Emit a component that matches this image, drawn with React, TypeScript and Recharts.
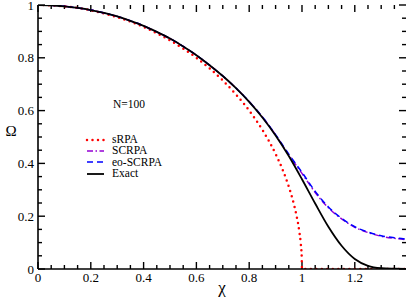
import { LineChart, Line, XAxis, YAxis, Legend, ReferenceLine } from 'recharts'

// chi grid for the Exact / SCRPA / eo-SCRPA curves
const chi = [
  0, 0.05, 0.1, 0.15, 0.2, 0.25, 0.3, 0.35, 0.4, 0.45, 0.5, 0.55, 0.6, 0.65, 0.7,
  0.75, 0.8, 0.85, 0.9, 0.95, 1.0, 1.05, 1.1, 1.15, 1.2, 1.25, 1.3, 1.35, 1.4,
]
const exact = [
  1, 0.999, 0.995, 0.989, 0.981, 0.97, 0.957, 0.94, 0.921, 0.898, 0.873, 0.843, 0.81, 0.772, 0.731,
  0.685, 0.633, 0.574, 0.506, 0.428, 0.34, 0.248, 0.16, 0.088, 0.038, 0.012, 0.003, 0.001, 0,
]
const scrpa = [
  1, 0.999, 0.995, 0.989, 0.981, 0.97, 0.957, 0.94, 0.921, 0.898, 0.873, 0.843, 0.81, 0.772, 0.731,
  0.685, 0.634, 0.576, 0.508, 0.432, 0.362, 0.29, 0.232, 0.19, 0.158, 0.138, 0.124, 0.116, 0.111,
]
const eoScrpa = [
  1, 0.999, 0.995, 0.989, 0.981, 0.97, 0.957, 0.94, 0.921, 0.898, 0.873, 0.843, 0.81, 0.772, 0.731,
  0.685, 0.634, 0.576, 0.509, 0.435, 0.366, 0.294, 0.235, 0.192, 0.16, 0.14, 0.126, 0.118, 0.113,
]

// sRPA has its own, denser grid near chi = 1
const chiRpa = [
  0, 0.05, 0.1, 0.15, 0.2, 0.25, 0.3, 0.35, 0.4, 0.45, 0.5, 0.55, 0.6, 0.65, 0.7, 0.75, 0.8,
  0.85, 0.9, 0.925, 0.95, 0.97, 0.98, 0.99, 0.995, 0.999, 1.0, 1.1, 1.2, 1.3, 1.4,
]
const sRpa = [
  1, 0.999, 0.995, 0.989, 0.98, 0.968, 0.954, 0.937, 0.917, 0.893, 0.866, 0.835, 0.8, 0.76, 0.714, 0.661, 0.6,
  0.527, 0.436, 0.38, 0.312, 0.243, 0.199, 0.141, 0.1, 0.045, 0, 0, 0, 0, 0,
]

const xTicks = [
  0, 0.05, 0.1, 0.15, 0.2, 0.25, 0.3, 0.35, 0.4, 0.45, 0.5, 0.55, 0.6, 0.65,
  0.7, 0.75, 0.8, 0.85, 0.9, 0.95, 1, 1.05, 1.1, 1.15, 1.2, 1.25, 1.3, 1.35,
]
const yTicks = [
  0, 0.05, 0.1, 0.15, 0.2, 0.25, 0.3, 0.35, 0.4, 0.45, 0.5, 0.55, 0.6, 0.65,
  0.7, 0.75, 0.8, 0.85, 0.9, 0.95, 1,
]

const W = 409
const H = 300
const M = { top: 5, right: 3, bottom: 0, left: 0 }
const Y_AXIS_W = 38
const X_AXIS_H = 31
const XMAX = 1.394
const FONT = 'Liberation Serif'

// data units per pixel, used only to size the inward tick marks
const plotW = W - M.left - M.right - Y_AXIS_W
const plotH = H - M.top - M.bottom - X_AXIS_H
const ux = XMAX / plotW
const uy = 1 / plotH

const zip = (xs: number[], ys: number[]) => xs.map((x, i) => ({ chi: x, omega: ys[i] }))

const series = [
  { name: 'sRPA', data: zip(chiRpa, sRpa), color: '#ff0000', dash: '0 5.5', width: 2.5, cap: 'round' },
  { name: 'SCRPA', data: zip(chi, scrpa), color: '#9400d3', dash: '6 2.5 1.5 2.5', width: 1.5, cap: 'butt' },
  { name: 'eo-SCRPA', data: zip(chi, eoScrpa), color: '#0000ff', dash: '6 4', width: 1.5, cap: 'butt' },
  { name: 'Exact', data: zip(chi, exact), color: '#000000', dash: undefined, width: 1.8, cap: 'butt' },
]

const isMajor = (v: number) => Math.abs(v * 5 - Math.round(v * 5)) < 1e-6
const fmt = (v: number) => (isMajor(v) ? String(Math.round(v * 100) / 100) : '')
const tickLen = (v: number) => (isMajor(v) ? 7 : 4)

// inward ticks on all four sides of the frame
const tickSegs = [
  ...xTicks.flatMap((v) => [
    [{ x: v, y: 0 }, { x: v, y: tickLen(v) * uy }],
    [{ x: v, y: 1 }, { x: v, y: 1 - tickLen(v) * uy }],
  ]),
  ...yTicks.flatMap((v) => [
    [{ x: 0, y: v }, { x: tickLen(v) * ux, y: v }],
    [{ x: XMAX, y: v }, { x: XMAX - tickLen(v) * ux, y: v }],
  ]),
]

const LegendBox = () => (
  <div style={{ fontFamily: FONT, fontSize: 11.5, color: '#000' }}>
    {series.map((s) => (
      <div key={s.name} style={{ display: 'flex', alignItems: 'center', height: 11.4 }}>
        <svg width={27} height={8} style={{ display: 'block' }}>
          <line
            x1={2}
            y1={4}
            x2={19}
            y2={4}
            stroke={s.color}
            strokeWidth={s.width}
            strokeDasharray={s.dash}
            strokeLinecap={s.cap as any}
          />
        </svg>
        <span style={{ lineHeight: 1 }}>{s.name}</span>
      </div>
    ))}
  </div>
)

const tickStyle = { fontSize: 13, fontFamily: FONT, fill: '#000' }
const axisLine = { stroke: '#000', strokeWidth: 1.6 }

export default function App() {
  return (
    <div style={{ position: 'absolute', left: 0, top: 0, width: W, height: H, background: '#fff' }}>
      <LineChart width={W} height={H} margin={M}>
        <XAxis
          xAxisId="b"
          dataKey="chi"
          type="number"
          domain={[0, XMAX]}
          ticks={xTicks}
          interval={0}
          height={X_AXIS_H}
          tickLine={false}
          tickSize={0}
          tickMargin={4}
          tick={tickStyle}
          tickFormatter={fmt}
          axisLine={axisLine}
          allowDataOverflow
          label={{
            content: (p: any) => (
              <text
                x={p.viewBox.x + p.viewBox.width / 2}
                y={p.viewBox.y + 24}
                textAnchor="middle"
                fontSize={17}
                fontFamily={FONT}
                fill="#000"
              >
                χ
              </text>
            ),
          }}
        />
        <XAxis
          xAxisId="t"
          orientation="top"
          type="number"
          domain={[0, XMAX]}
          height={0}
          tick={false}
          tickLine={false}
          axisLine={axisLine}
          allowDataOverflow
        />
        <YAxis
          yAxisId="l"
          type="number"
          domain={[0, 1]}
          ticks={yTicks}
          interval={0}
          width={Y_AXIS_W}
          tickLine={false}
          tickSize={0}
          tickMargin={4}
          tick={tickStyle}
          tickFormatter={fmt}
          axisLine={axisLine}
          allowDataOverflow
          label={{
            content: (p: any) => (
              <text
                x={p.viewBox.x + 11}
                y={p.viewBox.y + 131}
                textAnchor="middle"
                fontSize={15}
                fontFamily={FONT}
                fill="#000"
              >
                Ω
              </text>
            ),
          }}
        />
        <YAxis
          yAxisId="r"
          orientation="right"
          type="number"
          domain={[0, 1]}
          width={0}
          tick={false}
          tickLine={false}
          axisLine={axisLine}
          allowDataOverflow
        />
        {tickSegs.map((seg, i) => (
          <ReferenceLine
            key={`tk-${i}`}
            xAxisId="b"
            yAxisId="l"
            segment={seg}
            stroke="#000000"
            strokeWidth={1.4}
            ifOverflow="visible"
          />
        ))}
        {series.map((s) => (
          <Line
            key={s.name}
            xAxisId="b"
            yAxisId="l"
            data={s.data}
            dataKey="omega"
            name={s.name}
            type="monotone"
            stroke={s.color}
            strokeWidth={s.width}
            strokeDasharray={s.dash}
            strokeLinecap={s.cap as any}
            dot={false}
            activeDot={false}
            isAnimationActive={false}
          />
        ))}
        <Legend
          layout="vertical"
          align="center"
          verticalAlign="middle"
          content={() => <LegendBox />}
          wrapperStyle={{ position: 'absolute', left: 85, top: 134, width: 'auto' }}
        />
      </LineChart>
      <div
        style={{
          position: 'absolute',
          left: 113,
          top: 99,
          fontFamily: FONT,
          fontSize: 11.5,
          lineHeight: 1,
          color: '#000',
        }}
      >
        N=100
      </div>
    </div>
  )
}
